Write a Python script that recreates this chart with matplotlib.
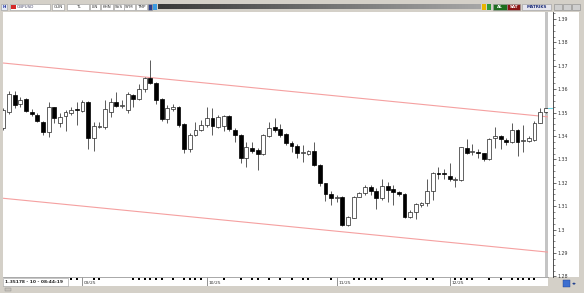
import numpy as np
import matplotlib
matplotlib.use('Agg')
import matplotlib.pyplot as plt
from matplotlib.patches import Rectangle
from matplotlib.ticker import MultipleLocator, FuncFormatter

# daily GBPUSD candles (oldest first)
opens = [1.3434, 1.3503, 1.3575, 1.3537, 1.3558, 1.3503, 1.3490, 1.3460, 1.3417, 1.3524,
         1.3456, 1.3485, 1.3498, 1.3515, 1.3507, 1.3545, 1.3391, 1.3438, 1.3438, 1.3503,
         1.3545, 1.3528, 1.3511, 1.3575, 1.3558, 1.3601, 1.3648, 1.3626, 1.3558, 1.3473,
         1.3515, 1.3524, 1.3451, 1.3344, 1.3404, 1.3426, 1.3447, 1.3477, 1.3438, 1.3443,
         1.3485, 1.3426, 1.3404, 1.3306, 1.3349, 1.3340, 1.3323, 1.3400, 1.3438, 1.3430,
         1.3408, 1.3370, 1.3357, 1.3327, 1.3323, 1.3336, 1.3276, 1.3199, 1.3152, 1.3135,
         1.3139, 1.3020, 1.3049, 1.3139, 1.3156, 1.3182, 1.3165, 1.3135, 1.3186, 1.3173,
         1.3161, 1.3152, 1.3054, 1.3075, 1.3105, 1.3114, 1.3165, 1.3242, 1.3242, 1.3229,
         1.3212, 1.3212, 1.3349, 1.3332, 1.3332, 1.3327, 1.3302, 1.3391, 1.3400, 1.3383,
         1.3374, 1.3426, 1.3379, 1.3379, 1.3383, 1.3456, 1.3503]
highs = [1.3520, 1.3592, 1.3592, 1.3567, 1.3562, 1.3515, 1.3498, 1.3464, 1.3545, 1.3524,
         1.3498, 1.3511, 1.3524, 1.3545, 1.3554, 1.3550, 1.3460, 1.3460, 1.3554, 1.3562,
         1.3588, 1.3554, 1.3588, 1.3579, 1.3622, 1.3652, 1.3725, 1.3631, 1.3562, 1.3532,
         1.3537, 1.3528, 1.3456, 1.3413, 1.3460, 1.3468, 1.3524, 1.3520, 1.3490, 1.3490,
         1.3490, 1.3434, 1.3408, 1.3374, 1.3374, 1.3349, 1.3408, 1.3460, 1.3477, 1.3451,
         1.3413, 1.3379, 1.3366, 1.3361, 1.3340, 1.3374, 1.3280, 1.3199, 1.3165, 1.3148,
         1.3144, 1.3058, 1.3144, 1.3161, 1.3191, 1.3191, 1.3178, 1.3216, 1.3203, 1.3191,
         1.3165, 1.3156, 1.3084, 1.3114, 1.3118, 1.3216, 1.3246, 1.3267, 1.3259, 1.3285,
         1.3225, 1.3353, 1.3387, 1.3366, 1.3344, 1.3327, 1.3391, 1.3438, 1.3404, 1.3391,
         1.3456, 1.3430, 1.3447, 1.3400, 1.3464, 1.3520, 1.3520]
lows = [1.3426, 1.3494, 1.3520, 1.3524, 1.3503, 1.3485, 1.3460, 1.3404, 1.3396, 1.3456,
        1.3438, 1.3421, 1.3490, 1.3447, 1.3503, 1.3344, 1.3336, 1.3434, 1.3430, 1.3481,
        1.3524, 1.3520, 1.3498, 1.3524, 1.3554, 1.3588, 1.3622, 1.3537, 1.3464, 1.3456,
        1.3507, 1.3438, 1.3327, 1.3332, 1.3400, 1.3421, 1.3438, 1.3404, 1.3434, 1.3421,
        1.3421, 1.3374, 1.3285, 1.3267, 1.3327, 1.3255, 1.3319, 1.3396, 1.3417, 1.3396,
        1.3361, 1.3332, 1.3306, 1.3289, 1.3319, 1.3272, 1.3186, 1.3122, 1.3105, 1.3118,
        1.3015, 1.3015, 1.3049, 1.3139, 1.3148, 1.3148, 1.3088, 1.3126, 1.3118, 1.3105,
        1.3144, 1.3049, 1.3049, 1.3045, 1.3096, 1.3101, 1.3126, 1.3216, 1.3216, 1.3208,
        1.3182, 1.3208, 1.3323, 1.3319, 1.3306, 1.3293, 1.3297, 1.3349, 1.3344, 1.3361,
        1.3370, 1.3314, 1.3332, 1.3374, 1.3379, 1.3456, 1.3498]
closes = [1.3511, 1.3579, 1.3532, 1.3554, 1.3507, 1.3494, 1.3464, 1.3417, 1.3524, 1.3477,
          1.3481, 1.3503, 1.3511, 1.3511, 1.3545, 1.3391, 1.3443, 1.3443, 1.3515, 1.3545,
          1.3528, 1.3532, 1.3579, 1.3558, 1.3601, 1.3648, 1.3626, 1.3554, 1.3473, 1.3520,
          1.3524, 1.3447, 1.3344, 1.3404, 1.3426, 1.3447, 1.3477, 1.3443, 1.3481, 1.3485,
          1.3430, 1.3404, 1.3306, 1.3353, 1.3336, 1.3323, 1.3404, 1.3434, 1.3426, 1.3404,
          1.3370, 1.3357, 1.3327, 1.3332, 1.3336, 1.3276, 1.3199, 1.3152, 1.3135, 1.3139,
          1.3020, 1.3054, 1.3139, 1.3156, 1.3182, 1.3165, 1.3135, 1.3186, 1.3169, 1.3161,
          1.3152, 1.3054, 1.3075, 1.3109, 1.3114, 1.3165, 1.3242, 1.3238, 1.3238, 1.3216,
          1.3216, 1.3353, 1.3327, 1.3336, 1.3327, 1.3302, 1.3387, 1.3400, 1.3387, 1.3374,
          1.3426, 1.3374, 1.3383, 1.3391, 1.3456, 1.3503, 1.3518]

month_pos = [14, 36, 59, 79]
month_labels = ['09/25', '10/25', '11/25', '12/25']
day_marks = [12, 13, 16, 17, 23, 24, 25, 26, 27, 28, 30, 32, 33, 34, 35, 39, 42, 44, 45, 47,
             49, 51, 53, 54, 58, 62, 63, 64, 65, 66, 67, 71, 73, 75, 76, 80, 81, 82, 83, 86,
             88, 90, 91, 92, 93, 94]

chan_x = [-0.1, 96.3]
chan_upper = [1.3712, 1.3482]
chan_lower = [1.3134, 1.2904]
last_price = 1.35178
status_text = '1.35178 - 10 - 08:44:19'

W, H = 584, 293
fig = plt.figure(figsize=(5.84, 2.93), dpi=100)
fig.patch.set_facecolor('#d4d0c8')


def px(x0, y0, x1, y1):
    # image pixel box (top-left origin) -> figure fraction rect
    return [x0 / W, 1 - y1 / H, (x1 - x0) / W, (y1 - y0) / H]


def fig_rect(x0, y0, x1, y1, fc, ec='none', lw=0.4, z=1):
    r = Rectangle((x0 / W, 1 - y1 / H), (x1 - x0) / W, (y1 - y0) / H,
                  transform=fig.transFigure, facecolor=fc, edgecolor=ec, lw=lw, zorder=z)
    fig.add_artist(r)


def tool_box(x0, x1, label, fc='white', tc='#333333', ec='#9a9a9a', weight='normal'):
    fig_rect(x0, 3.5, x1, 9.5, fc, ec)
    if label:
        fig.text((x0 + x1) / 2 / W, 1 - 6.7 / H, label, fontsize=3, color=tc,
                 ha='center', va='center', weight=weight, zorder=3)


ylo, yhi = 1.27974, 1.39299
xlo, xhi = -0.07, 96.39

# main candle panel
ax = fig.add_axes(px(3, 12, 548, 277))
ax.set_facecolor('white')
ax.set_xlim(xlo, xhi)
ax.set_ylim(ylo, yhi)
for s in ax.spines.values():
    s.set_visible(False)
ax.set_xticks([])
ax.set_yticks([])

o, h, l, c = map(np.array, (opens, highs, lows, closes))
idx = np.arange(len(o))
up = c >= o
body_lo = np.minimum(o, c)
body_h = np.maximum(np.abs(c - o), 0.0003)

ax.axvspan(95.86, xhi, color='#c4c4c4', lw=0, zorder=1)
ax.plot(chan_x, chan_upper, color='#f5a0a0', lw=0.8, zorder=1.5)
ax.plot(chan_x, chan_lower, color='#f5a0a0', lw=0.8, zorder=1.5)
ax.vlines(idx, l, h, color='#5a5a5a', lw=0.7, zorder=2)
ax.bar(idx[up], body_h[up], bottom=body_lo[up], width=0.68, color='white',
       edgecolor='#222222', lw=0.5, zorder=3)
ax.bar(idx[~up], body_h[~up], bottom=body_lo[~up], width=0.68, color='black',
       edgecolor='black', lw=0.5, zorder=3)

# price scale on the right
fig_rect(548, 12, 579, 277, 'white', z=-1)
ax2 = fig.add_axes(px(548, 12, 553, 277))
ax2.set_facecolor('white')
ax2.set_ylim(ylo, yhi)
ax2.set_xticks([])
for k in ('left', 'top', 'bottom'):
    ax2.spines[k].set_visible(False)
ax2.spines['right'].set_color('#333333')
ax2.spines['right'].set_linewidth(0.6)
ax2.yaxis.tick_right()
ax2.yaxis.set_major_locator(MultipleLocator(0.01))
ax2.yaxis.set_minor_locator(MultipleLocator(0.0025))
ax2.yaxis.set_major_formatter(FuncFormatter(lambda v, p: '{:g}'.format(round(v, 2))))
ax2.tick_params(axis='y', which='major', direction='out', length=2, width=0.5,
                labelsize=3.4, pad=1.2, colors='#333333')
ax2.tick_params(axis='y', which='minor', direction='out', length=1.2, width=0.4,
                colors='#333333')
ax2.axhline(last_price, color='#6fd6e3', lw=0.8)

# date strip
ax3 = fig.add_axes(px(3, 277, 548, 286))
ax3.set_facecolor('white')
ax3.set_xlim(xlo, xhi)
ax3.set_ylim(0, 1)
ax3.set_xticks([])
ax3.set_yticks([])
for k in ('left', 'right', 'bottom'):
    ax3.spines[k].set_visible(False)
ax3.spines['top'].set_color('#9a9a9a')
ax3.spines['top'].set_linewidth(0.6)
ax3.scatter(day_marks, [0.8] * len(day_marks), marker='s', s=1.3, color='black', lw=0)
ax3.vlines(month_pos, 0.05, 1, color='#666666', lw=0.5)
for m, lbl in zip(month_pos, month_labels):
    ax3.text(m + 0.3, 0.32, lbl, fontsize=3.2, color='#333333', ha='left', va='center')

# status box bottom left
fig_rect(3, 277.5, 67.5, 286, 'white', ec='#9a9a9a', lw=0.4, z=2)
fig.text(5 / W, 1 - 282 / H, status_text, fontsize=3.2, weight='bold', color='#222222',
         ha='left', va='center', zorder=3)
fig_rect(5, 287.5, 11, 290.5, '#c8c4bc', ec='#8a8a8a', lw=0.3)

# bottom right icons
fig_rect(563, 280, 570, 287, '#3d6fd0', ec='#1f3f8f', lw=0.3)
fig.text(574 / W, 1 - 283.5 / H, '\u25c2\u25b8', fontsize=3.5, color='#1f3f8f',
         ha='center', va='center')

# top toolbar
tool_box(1, 7, 'H', fc='#e3e9f7', tc='#1f2f9a', weight='bold')
tool_box(10, 50, '')
fig_rect(11, 4.5, 16, 8.5, '#d42a2a')
fig.text(17 / W, 1 - 6.7 / H, 'GBPUSD', fontsize=3, color='#444466', ha='left',
         va='center', zorder=3)
for x0, x1, lbl in [(52, 64, 'GÜN'), (67, 89, 'TL'), (90, 100, 'LIN'), (101, 113, 'KHN'),
                    (114, 124, 'SVS'), (124, 135, 'SYM'), (136, 147, 'TMP')]:
    tool_box(x0, x1, lbl)
tool_box(148, 152, '', fc='#2b3f8c')
tool_box(153, 157, '', fc='#3b9be0', ec='none')

axb = fig.add_axes(px(158, 3.5, 481, 9.5))
axb.imshow(np.linspace(0, 1, 200)[None, :], aspect='auto',
           cmap=matplotlib.colors.LinearSegmentedColormap.from_list('g', ['#3a3a3a', '#a6a6a6']))
axb.axis('off')

tool_box(482, 486, '', fc='#e8b400', ec='none')
tool_box(487, 491, '', fc='#2e9b3a', ec='none')
tool_box(493, 507, 'AL', fc='#1e6e1e', tc='white', weight='bold')
tool_box(507, 520, 'SAT', fc='#8b1515', tc='white', weight='bold')
tool_box(522, 551, 'MATRIKS', fc='#e6e6ee', tc='#1f2f7a', weight='bold')
for x0 in (554, 563, 572):
    tool_box(x0, x0 + 8, '', fc='#cfcfcf', ec='#8a8a8a')

fig.savefig('out.png', dpi=100, facecolor=fig.get_facecolor())
